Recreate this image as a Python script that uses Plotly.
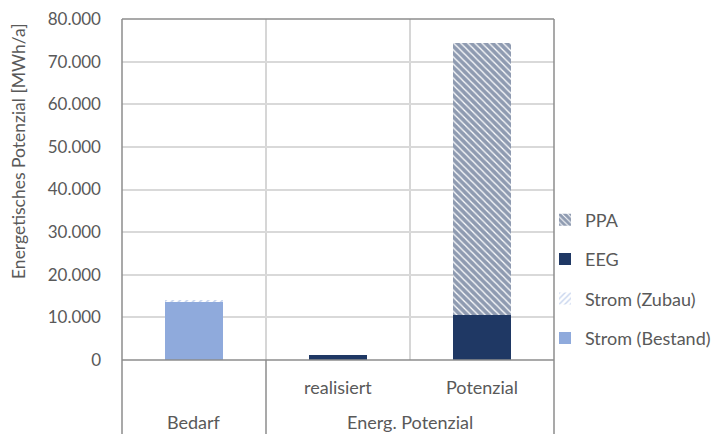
import plotly.graph_objects as go

# Categories and stacked values (MWh/a)
categories = ["Bedarf", "realisiert", "Potenzial"]
strom_bestand = [13500, None, None]
strom_zubau = [600, None, None]
eeg = [None, 1100, 10600]
ppa = [None, None, 63800]

# Two-level category labels: inner row and outer groups
inner_labels = {"realisiert": 1, "Potenzial": 2}
outer_groups = [("Bedarf", 0), ("Energ. Potenzial", 1.5)]

TXT = "#595959"
FONT = "Lato"
DARK_BLUE = "#1f3864"
LIGHT_BLUE = "#8faadc"
GRID = "#d9d9d9"
FRAME = "#8c8c8c"

fig = go.Figure()
fig.add_bar(x=categories, y=strom_bestand, name="Strom (Bestand)",
            marker=dict(color=LIGHT_BLUE, line=dict(width=0)),
            legendgroup="a", legendrank=4, width=0.4)
fig.add_bar(x=categories, y=strom_zubau, name="Strom (Zubau)",
            marker=dict(color="white", line=dict(width=0),
                        pattern=dict(shape="/", fgcolor=LIGHT_BLUE, bgcolor="white",
                                     size=5, solidity=0.35)),
            legendgroup="b", legendrank=3, width=0.4)
fig.add_bar(x=categories, y=eeg, name="EEG",
            marker=dict(color=DARK_BLUE, line=dict(width=0)),
            legendgroup="c", legendrank=2, width=0.4)
fig.add_bar(x=categories, y=ppa, name="PPA",
            marker=dict(color="white", line=dict(width=0),
                        pattern=dict(shape="\\", fgcolor=DARK_BLUE, bgcolor="white",
                                     size=5, solidity=0.75)),
            legendgroup="d", legendrank=1, width=0.4)

L, R, T, B = 122, 163, 19, 74
H = 434 - T - B
W = 717 - L - R
below = -(B + 2) / H

shapes = []
# plot frame: top, left and right edges, extended through the label area
shapes.append(dict(type="line", xref="paper", yref="paper", x0=0, x1=1, y0=1, y1=1,
                   line=dict(color=FRAME, width=1.5)))
for xp in (0, 1):
    shapes.append(dict(type="line", xref="paper", yref="paper", x0=xp, x1=xp, y0=1, y1=below,
                       line=dict(color=FRAME, width=1.5)))
# category separators inside the plot
for xs in (0.5, 1.5):
    shapes.append(dict(type="line", xref="x", yref="paper", x0=xs, x1=xs, y0=0, y1=1,
                       line=dict(color="#c8c8c8", width=1.5), layer="below"))
# outer group separator through the label area
shapes.append(dict(type="line", xref="x", yref="paper", x0=0.5, x1=0.5, y0=0, y1=below,
                   line=dict(color=FRAME, width=1.5)))
# baseline
shapes.append(dict(type="line", xref="paper", yref="paper", x0=0, x1=1, y0=0, y1=0,
                   line=dict(color=FRAME, width=1.5)))

annotations = []
for lab, xpos in inner_labels.items():
    annotations.append(dict(x=xpos, y=-(387 - 360) / H, xref="x", yref="paper",
                            text=lab, showarrow=False, yanchor="middle",
                            font=dict(family=FONT, size=18, color=TXT)))
for lab, xpos in outer_groups:
    annotations.append(dict(x=xpos, y=-(422 - 360) / H, xref="x", yref="paper",
                            text=lab, showarrow=False, yanchor="middle",
                            font=dict(family=FONT, size=18, color=TXT)))
# value axis title
annotations.append(dict(x=-(122 - 18) / W, y=(360 - 151) / H, xref="paper", yref="paper",
                        text="Energetisches Potenzial [MWh/a]", textangle=-90,
                        showarrow=False, xanchor="center", yanchor="middle",
                        font=dict(family=FONT, size=17.5, color=TXT)))

fig.update_layout(
    width=717, height=434,
    margin=dict(l=L, r=R, t=T, b=B, autoexpand=False),
    paper_bgcolor="white", plot_bgcolor="white",
    barmode="stack",
    separators=",.",
    font=dict(family=FONT, size=16, color=TXT),
    xaxis=dict(type="category", categoryorder="array", categoryarray=categories,
               range=[-0.5, 2.5], showticklabels=False, showgrid=False,
               zeroline=False, showline=False, ticks=""),
    yaxis=dict(range=[0, 80000], dtick=10000, tickformat=",d",
               showgrid=True, gridcolor=GRID, gridwidth=1.5, zeroline=False,
               showline=False, ticks="", ticklabelstandoff=20,
               tickfont=dict(family=FONT, size=17, color=TXT)),
    legend=dict(x=(545 - L) / W, xanchor="left", y=(360 - 279) / H, yanchor="middle",
                traceorder="grouped", tracegroupgap=13,
                font=dict(family=FONT, size=18, color=TXT),
                bgcolor="rgba(0,0,0,0)"),
    shapes=shapes,
    annotations=annotations,
)

fig.write_html("out.html")
